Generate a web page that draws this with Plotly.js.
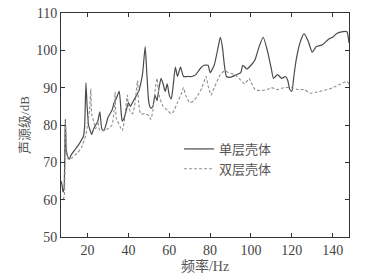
<!DOCTYPE html>
<html>
<head>
<meta charset="utf-8">
<script src="https://cdn.plot.ly/plotly-3.0.1.min.js"></script>
<style>html,body{margin:0;padding:0;background:#fff;}#chart{width:365px;height:279px;}</style>
</head>
<body>
<div id="chart"></div>
<script>
var seriesNames = ["单层壳体", "双层壳体"];
var singleFreq = [7, 7.5, 8, 8.5, 9.1, 9.6, 10, 11, 12, 14, 16, 17, 18, 18.6, 19.2, 19.8, 20.5, 21, 22, 23, 24, 25, 26, 27, 28, 29, 30, 32, 33, 34, 35.5, 36.5, 37, 38, 39, 40, 41, 42, 43, 45, 46, 47, 48.2, 49, 50, 51, 52, 53, 54, 55, 56, 57, 58, 59, 60, 61, 62, 63, 64, 65.5, 67, 69, 71, 73, 75, 77, 79, 80, 82, 84, 85, 86, 87, 88, 90, 93, 95, 96, 98, 100, 102, 104, 106, 108, 110, 111, 113, 115, 117, 118, 119, 120, 121, 122, 124, 126, 128, 130, 132, 135, 138, 140, 142, 145, 147, 148];
var singleLevel = [65, 64, 62, 63, 81.5, 73, 72, 70.8, 72, 73.5, 75, 76, 77, 80, 91.3, 85, 80, 79, 77.5, 79, 80, 81, 83.5, 79, 78.5, 80, 82, 84, 86, 87, 89, 83, 81, 82, 84, 86, 85, 86, 87, 89, 91, 94, 101, 94, 86, 84.5, 85, 88, 86.5, 90, 92.5, 91, 89, 91, 88, 87, 91, 95.5, 93, 95.5, 93, 93, 93, 93.5, 95, 96, 96, 94, 96, 101, 103.5, 101, 96, 93, 92.8, 93.5, 94, 96, 95, 96, 97.5, 101, 103.5, 100, 95, 92.5, 93.5, 92.5, 93, 92, 89.5, 89, 93, 97, 102, 104.5, 102.5, 99.5, 101, 101.5, 103, 103.5, 104.5, 105, 105, 102];
var doubleFreq = [8, 8.6, 9.2, 9.6, 10, 10.5, 12, 15, 17, 19, 20, 21, 21.6, 22, 23, 24, 25, 26, 28, 30, 32, 33, 33.5, 34, 36, 37, 38, 39.5, 40, 41, 42, 43, 44.5, 45, 46, 48, 50, 51, 52, 53, 54, 55, 57, 59, 61, 62, 64, 66, 67, 68, 70, 72, 74, 76, 78, 79, 80.5, 82, 85, 87, 89, 92, 95, 97, 99, 100, 102, 105, 108, 110, 113, 116, 120, 123, 126, 129, 132, 136, 140, 144, 147, 148];
var doubleLevel = [60, 61, 80.5, 75, 72, 71, 71, 72.5, 74, 77, 80, 84, 89.7, 83, 81, 79, 81, 78.5, 78.5, 79, 80, 84, 88.8, 82, 79.5, 78.5, 81, 88, 85, 83.5, 83, 85, 92, 86, 83, 83, 82.5, 81.5, 84, 89, 92.5, 88, 85, 84, 83, 83.5, 86, 88.5, 90, 88, 86, 86.5, 88, 90, 93, 90.5, 88, 90, 93.5, 94.5, 94, 93.5, 92, 91, 92.5, 91.5, 89.5, 89.2, 89.5, 90, 89.5, 90, 90, 89.5, 89.5, 88.5, 88.8, 89.3, 90, 91, 91.7, 91];
var xTicks = [20, 40, 60, 80, 100, 120, 140];
var yTicks = [50, 60, 70, 80, 90, 100, 110];
var xLabel = "频率/Hz";
var yLabel = "声源级/dB";

var fontFam = "'Liberation Serif', 'Noto Sans CJK SC', serif";
var traces = [
  {x: singleFreq, y: singleLevel, name: seriesNames[0], mode: "lines",
   line: {color: "#4a4a4a", width: 1.2, dash: "solid", shape: "spline", smoothing: 0.5}},
  {x: doubleFreq, y: doubleLevel, name: seriesNames[1], mode: "lines",
   line: {color: "#8f8f8f", width: 1.1, dash: "3px,2px", shape: "spline", smoothing: 0.5}}
];
var axisCommon = {
  showline: true, linecolor: "#333", linewidth: 1, mirror: "ticks",
  ticks: "inside", ticklen: 4, tickcolor: "#333", showgrid: false, zeroline: false,
  tickfont: {family: fontFam, size: 14, color: "#444"}
};
var layout = {
  width: 365, height: 279,
  margin: {l: 61, r: 16, t: 13, b: 42},
  paper_bgcolor: "#fff", plot_bgcolor: "#fff",
  showlegend: true,
  legend: {x: 0.41, y: 0.46, xanchor: "left", yanchor: "top", bgcolor: "rgba(0,0,0,0)",
    font: {family: "'Noto Sans CJK SC', sans-serif", size: 13, color: "#555"},
    tracegroupgap: 0, itemwidth: 30},
  xaxis: Object.assign({}, axisCommon, {range: [7, 148], tickvals: xTicks, ticktext: xTicks.map(String),
    title: {text: xLabel, font: {family: "'Liberation Serif', 'Noto Sans CJK SC', serif", size: 14, color: "#555"}, standoff: 4}}),
  yaxis: Object.assign({}, axisCommon, {range: [50, 110], tickvals: yTicks, ticktext: yTicks.map(String),
    title: {text: yLabel, font: {family: "'Liberation Serif', 'Noto Sans CJK SC', serif", size: 13, color: "#555"}, standoff: 3}})
};
Plotly.newPlot("chart", traces, layout, {staticPlot: true, displayModeBar: false});
</script>
</body>
</html>
